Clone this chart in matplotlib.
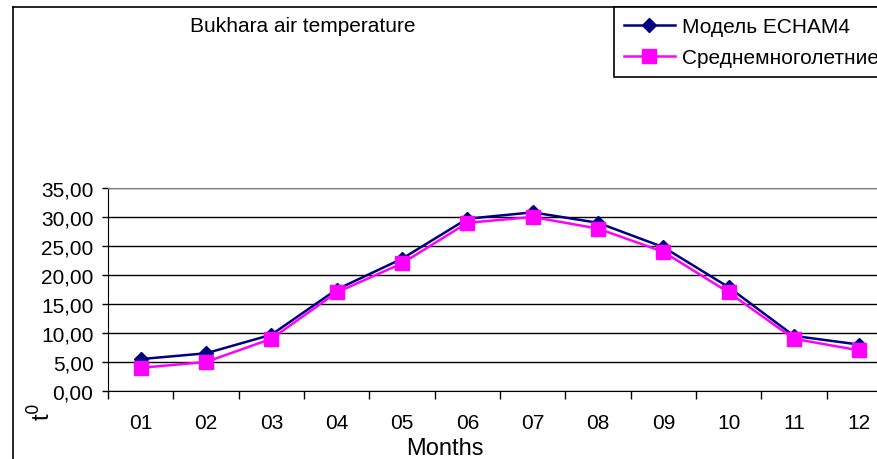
import matplotlib
matplotlib.use("Agg")
import matplotlib.pyplot as plt
from matplotlib.lines import Line2D
from matplotlib.ticker import FuncFormatter, FixedLocator, NullFormatter

plt.rcParams['font.family'] = ['Liberation Sans', 'DejaVu Sans']

months = ["01", "02", "03", "04", "05", "06", "07", "08", "09", "10", "11", "12"]
echam4 = [5.5, 6.5, 9.7, 17.5, 22.8, 29.7, 30.8, 29.0, 24.8, 17.9, 9.5, 8.0]
mean_long = [4.0, 5.0, 9.0, 17.0, 22.0, 29.0, 30.0, 28.0, 24.0, 17.0, 9.0, 7.0]
series_names = ["Модель ECHAM4", "Среднемноголетние"]
title = "Bukhara air temperature"
xlabel = "Months"
ylabel = "t$^{0}$"
yticks = [0, 5, 10, 15, 20, 25, 30, 35]

W, H = 878, 460
fig = plt.figure(figsize=(W / 100, H / 100), dpi=100)

# plot area (extends beyond right edge as in reference)
left, right, top, bottom = 108, 892, 189, 392
ax = fig.add_axes([left / W, 1 - bottom / H, (right - left) / W, (bottom - top) / H])
ax.set_facecolor('white')

x = list(range(len(months)))
ax.plot(x, echam4, color='#000080', lw=1.8, marker='D', markersize=7.5, label=series_names[0], zorder=3, clip_on=False)
ax.plot(x, mean_long, color='#FF00FF', lw=1.8, marker='s', markersize=10, label=series_names[1], zorder=4, clip_on=False)

ax.set_xlim(-0.5, len(months) - 0.5)
ax.set_ylim(0, 35)
ax.set_yticks(yticks)
ax.yaxis.set_major_formatter(FuncFormatter(lambda v, p: f"{v:.2f}".replace('.', ',')))
ax.set_xticks(x)
ax.set_xticklabels(months)
ax.xaxis.set_minor_locator(FixedLocator([i - 0.5 for i in range(len(months) + 1)]))
ax.xaxis.set_minor_formatter(NullFormatter())
ax.tick_params(axis='x', which='major', length=0, pad=16, labelsize=15)
ax.tick_params(axis='x', which='minor', length=6, width=1, direction='out', color='black')
ax.tick_params(axis='y', which='major', length=4.5, width=1, direction='out', labelsize=15, pad=6)
ax.grid(axis='y', color='black', lw=1)
ax.set_axisbelow(True)
ax.spines['right'].set_visible(False)
ax.spines['top'].set_color('#808080')
ax.spines['left'].set_color('black')
ax.spines['bottom'].set_color('black')

# axis labels
fig.text(445 / W, 1 - 449 / H, xlabel, ha='center', va='center', fontsize=17)
fig.text(42 / W, 1 - 412 / H, ylabel, ha='center', va='center', fontsize=17, rotation=90)

# title
fig.text(303 / W, 1 - 26 / H, title, ha='center', va='center', fontsize=15)

# chart area border (left & top)
fig.add_artist(Line2D([13 / W, 13 / W], [0, 1 - 8 / H], color='black', lw=1.2, transform=fig.transFigure))
fig.add_artist(Line2D([13 / W, 1], [1 - 8 / H, 1 - 8 / H], color='black', lw=1.2, transform=fig.transFigure))

# legend
leg = fig.legend(loc='upper left', bbox_to_anchor=(614 / W, 1 - 8 / H), fontsize=15,
                 frameon=True, fancybox=False, edgecolor='black', framealpha=1,
                 handlelength=2.45, handletextpad=0.33, borderpad=0.47, labelspacing=0.6,
                 borderaxespad=0)
leg.get_frame().set_linewidth(1.2)

fig.savefig("out.png", dpi=100)
